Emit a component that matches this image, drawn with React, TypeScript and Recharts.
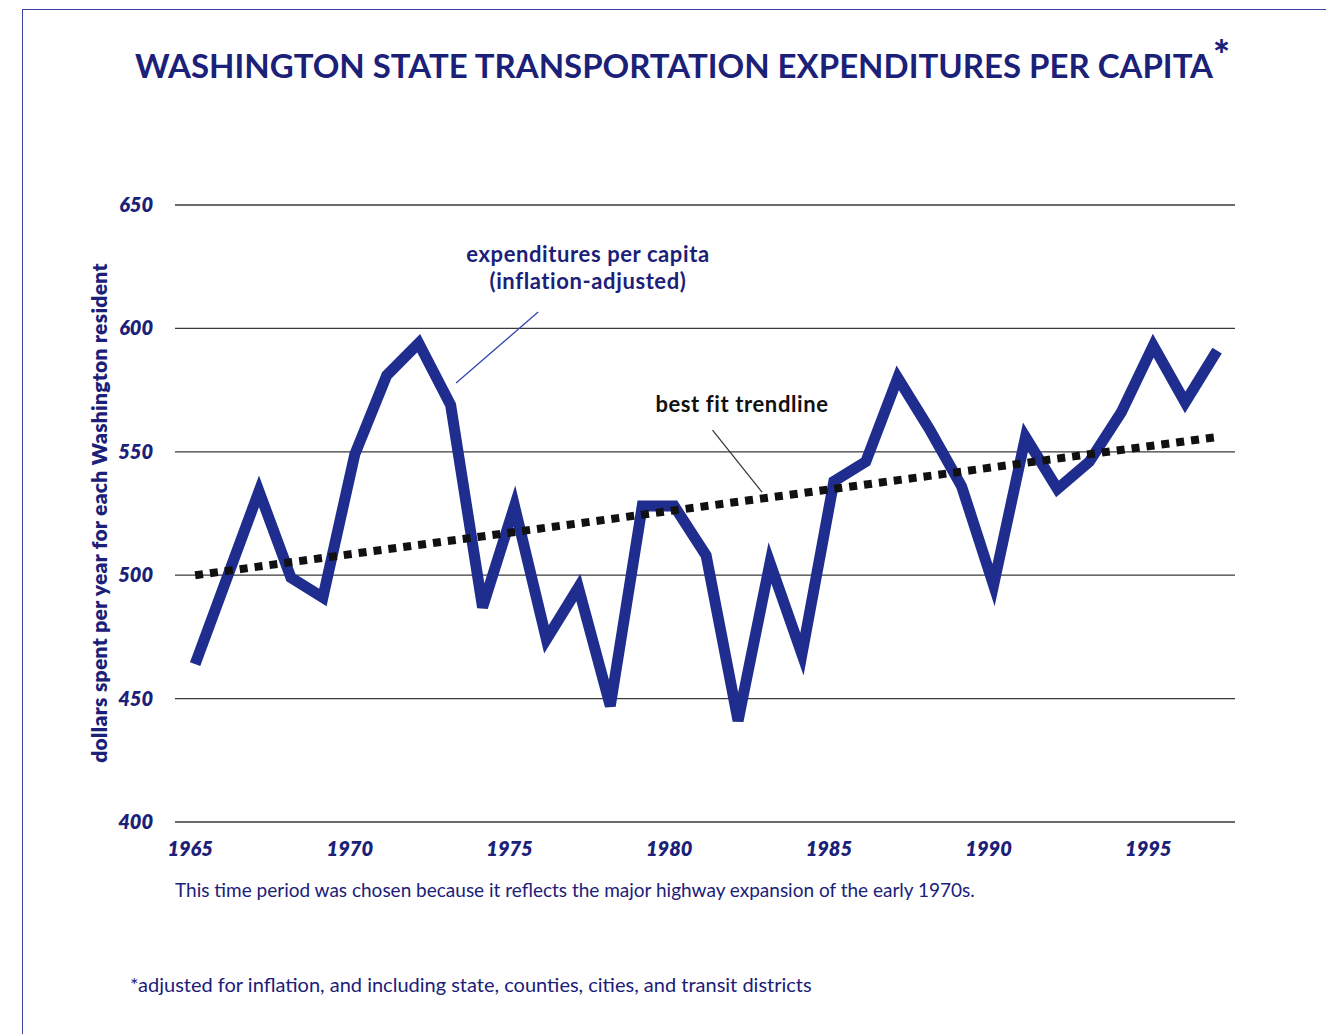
import React from 'react';
import {
  LineChart,
  Line,
  XAxis,
  YAxis,
  CartesianGrid,
  ReferenceLine
} from 'recharts';

const years = [
  1965, 1967, 1968, 1969, 1970, 1971, 1972, 1973, 1974, 1975, 1976, 1977, 1978, 1979, 1980, 1981,
  1982, 1983, 1984, 1985, 1986, 1987, 1988, 1989, 1990, 1991, 1992, 1993, 1994, 1995, 1996, 1997
];
const expenditures = [
  464, 534, 499, 491, 549, 581, 594, 569, 487, 528, 474, 495, 447, 528, 528, 508,
  441, 505, 468, 538, 546, 580, 559, 536, 496, 556, 535, 546, 566, 593, 570, 591
];
// best fit trendline end points
const trendYears = [1965, 1997];
const trendValues = [500, 556];

const xTicks = [1965, 1970, 1975, 1980, 1985, 1990, 1995];
const yTicks = [400, 450, 500, 550, 600, 650];

const NAVY = '#1b2078';
const LINE = '#1e2d8e';

const chartData = years.map((year, i) => {
  const t = trendYears.indexOf(year);
  return {
    year,
    spend: expenditures[i],
    trend: t >= 0 ? trendValues[t] : null
  };
});

const YTick = ({ x, y, payload }: any) => (
  <text
    x={x - 14}
    y={y}
    dy={7}
    textAnchor="end"
    fill={NAVY}
    fontSize={20}
    fontStyle="italic"
    fontWeight={800}
    fontFamily="Lato, 'Open Sans', sans-serif"
  >
    {payload.value}
  </text>
);

const XTick = ({ x, y, payload }: any) => (
  <text
    x={x - 5}
    y={y}
    dy={26}
    textAnchor="middle"
    fill={NAVY}
    fontSize={20}
    fontStyle="italic"
    fontWeight={800}
    fontFamily="Lato, 'Open Sans', sans-serif"
  >
    {payload.value}
  </text>
);

const App: React.FC = () => {
  return (
    <div
      style={{
        position: 'absolute',
        left: 0,
        top: 0,
        width: 1326,
        height: 1034,
        background: '#fff',
        fontFamily: 'Lato, sans-serif',
        overflow: 'hidden'
      }}
    >
      {/* page frame */}
      <div style={{ position: 'absolute', left: 22, top: 9, width: 1304, height: 1, background: '#3a44a0' }} />
      <div style={{ position: 'absolute', left: 22, top: 9, width: 1, height: 1025, background: '#3a44a0' }} />

      <div
        style={{
          position: 'absolute',
          left: 0,
          width: 1348,
          top: 45,
          textAlign: 'center',
          color: NAVY,
          fontWeight: 700,
          fontSize: 33,
          lineHeight: '40px',
          whiteSpace: 'nowrap'
        }}
      >
        <span style={{ position: 'relative' }}>
          WASHINGTON STATE TRANSPORTATION EXPENDITURES PER CAPITA
          <span
            style={{
              position: 'absolute',
              left: '100%',
              top: -10,
              fontSize: 40,
              fontWeight: 900,
              lineHeight: '40px'
            }}
          >
            *
          </span>
        </span>
      </div>

      <div style={{ position: 'absolute', left: 0, top: 0 }}>
        <LineChart
          width={1326}
          height={1034}
          data={chartData}
          margin={{ top: 205, right: 91, bottom: 172, left: 115 }}
        >
          <CartesianGrid horizontal vertical={false} stroke="#3a3a3a" strokeWidth={1.3} />
          <XAxis
            dataKey="year"
            type="number"
            domain={[1964.37, 1997.56]}
            ticks={xTicks}
            axisLine={false}
            tickLine={false}
            height={40}
            tick={<XTick />}
          />
          <YAxis
            type="number"
            domain={[400, 650]}
            ticks={yTicks}
            axisLine={false}
            tickLine={false}
            width={60}
            tick={<YTick />}
          />
          <ReferenceLine
            segment={[{ x: 1975.74, y: 606.6 }, { x: 1973.17, y: 577.9 }]}
            stroke="#3346b0"
            strokeWidth={1.3}
          />
          <ReferenceLine
            segment={[{ x: 1981.2, y: 558.8 }, { x: 1982.75, y: 533.7 }]}
            stroke="#333"
            strokeWidth={1.2}
          />
          <Line
            type="linear"
            dataKey="spend"
            stroke={LINE}
            strokeWidth={11}
            strokeLinejoin="miter"
            dot={false}
            activeDot={false}
            isAnimationActive={false}
          />
          <Line
            type="linear"
            dataKey="trend"
            stroke="#111"
            strokeWidth={8}
            strokeDasharray="8 7"
            connectNulls
            dot={false}
            activeDot={false}
            isAnimationActive={false}
          />
        </LineChart>
      </div>

      <div
        style={{
          position: 'absolute',
          left: 98,
          top: 513,
          transform: 'translate(-50%, -50%) rotate(-90deg)',
          whiteSpace: 'nowrap',
          color: NAVY,
          fontWeight: 800,
          fontSize: 21,
          letterSpacing: 0.3
        }}
      >
        dollars spent per year for each Washington resident
      </div>

      <div
        style={{
          position: 'absolute',
          left: 588,
          top: 240,
          transform: 'translateX(-50%)',
          textAlign: 'center',
          color: NAVY,
          fontWeight: 700,
          fontSize: 22,
          letterSpacing: 0.6,
          lineHeight: '27px',
          whiteSpace: 'nowrap'
        }}
      >
        expenditures per capita
        <br />
        (inflation-adjusted)
      </div>

      <div
        style={{
          position: 'absolute',
          left: 742,
          top: 390,
          transform: 'translateX(-50%)',
          color: '#111',
          fontWeight: 700,
          fontSize: 22,
          letterSpacing: 0.6,
          whiteSpace: 'nowrap'
        }}
      >
        best fit trendline
      </div>

      <div
        style={{
          position: 'absolute',
          left: 175,
          top: 878,
          color: NAVY,
          fontSize: 19,
          whiteSpace: 'nowrap'
        }}
      >
        This time period was chosen because it reflects the major highway expansion of the early 1970s.
      </div>

      <div
        style={{
          position: 'absolute',
          left: 130,
          top: 972,
          color: NAVY,
          fontSize: 20,
          whiteSpace: 'nowrap'
        }}
      >
        *adjusted for inflation, and including state, counties, cities, and transit districts
      </div>
    </div>
  );
};

export default App;
